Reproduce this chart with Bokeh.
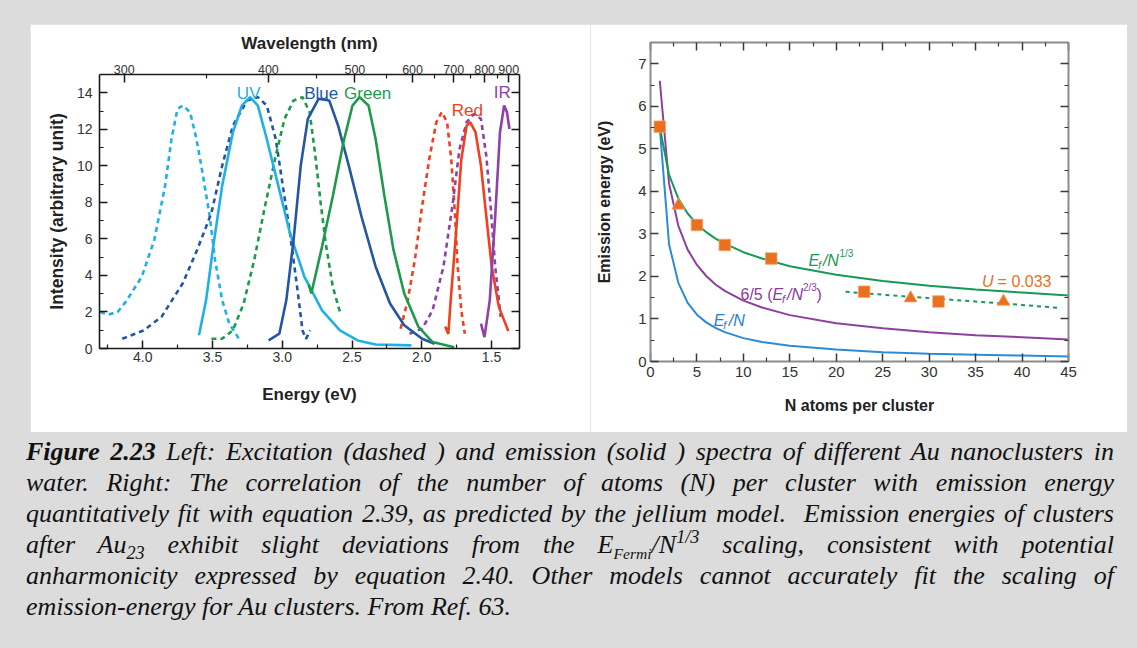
from bokeh.plotting import figure
from bokeh.models import (Range1d, LinearAxis, FixedTicker, PrintfTickFormatter,
                          CustomJSTickFormatter, Label, Spacer, Div)
from bokeh.layouts import row, column
from bokeh.embed import file_html
from bokeh.resources import INLINE

# ---------------- data: left panel (energy in eV, intensity in arb. unit) ----------------
uv_ex_e = [4.305, 4.25, 4.18, 4.122, 4.007, 3.917, 3.84, 3.794, 3.751, 3.713, 3.661, 3.615, 3.572, 3.52, 3.482, 3.431, 3.38, 3.303]
uv_ex_i = [2.0, 1.85, 2.0, 2.55, 3.93, 5.95, 8.9, 11.47, 13.12, 13.3, 12.94, 11.47, 9.63, 7.24, 4.85, 2.65, 1.36, 0.44]

blue_ex_e = [4.147, 3.994, 3.866, 3.713, 3.61, 3.508, 3.431, 3.354, 3.252, 3.175, 3.111, 3.047, 2.996, 2.945, 2.894, 2.855, 2.83, 2.80]
blue_ex_i = [0.53, 0.99, 1.73, 3.57, 5.4, 7.42, 10.0, 12.2, 13.58, 13.76, 13.3, 11.47, 8.9, 6.32, 3.38, 0.99, 0.53, 0.99]

green_ex_e = [3.508, 3.431, 3.354, 3.277, 3.201, 3.124, 3.047, 2.984, 2.919, 2.855, 2.804, 2.766, 2.728, 2.689, 2.638, 2.587]
green_ex_i = [0.53, 0.53, 0.99, 2.46, 4.85, 7.79, 10.55, 12.57, 13.58, 13.76, 12.94, 10.73, 8.16, 5.77, 3.38, 2.0]

red_ex_e = [2.152, 2.101, 2.05, 1.998, 1.947, 1.896, 1.857, 1.819, 1.789, 1.763, 1.743, 1.717, 1.692]
red_ex_i = [1.08, 2.65, 4.85, 7.79, 10.36, 12.39, 12.94, 12.39, 10.36, 7.42, 4.48, 2.09, 0.81]

ir_ex_e = [2.088, 1.998, 1.923, 1.845, 1.781, 1.73, 1.679, 1.627, 1.576, 1.538, 1.507, 1.474, 1.435]
ir_ex_i = [0.81, 1.08, 2.09, 4.48, 7.79, 10.92, 12.39, 12.84, 12.57, 10.55, 7.79, 4.48, 1.73]

uv_em_e = [3.597, 3.546, 3.495, 3.431, 3.354, 3.29, 3.231, 3.175, 3.111, 3.034, 2.945, 2.842, 2.715, 2.587, 2.46, 2.331, 2.075]
uv_em_i = [0.72, 2.65, 5.58, 8.9, 11.84, 13.3, 13.76, 13.3, 11.47, 9.08, 6.32, 3.93, 2.09, 0.99, 0.44, 0.22, 0.17]

blue_em_e = [3.098, 3.021, 2.971, 2.919, 2.868, 2.817, 2.74, 2.664, 2.6, 2.523, 2.433, 2.331, 2.228, 2.126, 1.998, 1.909]
blue_em_i = [0.44, 0.81, 2.65, 5.95, 10.0, 12.57, 13.67, 13.58, 12.2, 10.0, 7.24, 4.48, 2.46, 1.27, 0.53, 0.26]

green_em_e = [2.81, 2.792, 2.715, 2.638, 2.562, 2.497, 2.446, 2.382, 2.331, 2.268, 2.203, 2.126, 2.024, 1.923, 1.768]
green_em_i = [3.5, 3.01, 5.58, 8.34, 11.28, 13.3, 13.76, 13.3, 11.47, 8.34, 5.4, 3.01, 1.18, 0.35, 0.07]

red_em_e = [1.832, 1.81, 1.793, 1.755, 1.717, 1.679, 1.654, 1.615, 1.576, 1.538, 1.499, 1.448, 1.38]
red_em_i = [1.2, 0.8, 2.65, 6.32, 10.36, 12.2, 12.39, 11.84, 10.0, 7.24, 4.48, 2.28, 0.95]

ir_em_e = [1.576, 1.551, 1.513, 1.474, 1.44, 1.41, 1.39, 1.372]
ir_em_i = [1.36, 0.62, 2.65, 7.24, 11.84, 13.3, 12.94, 12.02]

energy_ticks = [4.0, 3.5, 3.0, 2.5, 2.0, 1.5]
energy_minor = [4.25, 3.75, 3.25, 2.75, 2.25, 1.75]
wl_ticks = [300, 400, 500, 600, 700, 800, 900]
wl_minor = [350, 450, 550, 650, 750, 850]
int_ticks = [0, 2, 4, 6, 8, 10, 12, 14]
int_minor = [1, 3, 5, 7, 9, 11, 13]

# ---------------- data: right panel ----------------
n_model = [1, 2, 3, 4, 5, 6, 7, 8, 10, 12, 15, 20, 25, 30, 35, 40, 45]
ef_over_n = [5.5, 2.75, 1.85, 1.38, 1.1, 0.92, 0.79, 0.69, 0.55, 0.46, 0.37, 0.28, 0.22, 0.18, 0.16, 0.14, 0.12]
ef_over_n13 = [5.5, 4.39, 3.83, 3.48, 3.23, 3.04, 2.89, 2.77, 2.57, 2.42, 2.24, 2.04, 1.89, 1.78, 1.69, 1.62, 1.55]
ef_over_n23 = [6.6, 4.18, 3.19, 2.63, 2.27, 2.01, 1.81, 1.66, 1.43, 1.27, 1.09, 0.90, 0.78, 0.69, 0.62, 0.57, 0.52]
u_n = [21, 25, 30, 35, 40, 44]
u_e = [1.64, 1.57, 1.49, 1.41, 1.33, 1.26]
sq_n = [1, 5, 8, 13, 23, 31]
sq_e = [5.52, 3.21, 2.74, 2.42, 1.64, 1.41]
tri_n = [3, 28, 38]
tri_e = [3.67, 1.49, 1.41]
n_ticks = [0, 5, 10, 15, 20, 25, 30, 35, 40, 45]
n_minor = [2.5, 7.5, 12.5, 17.5, 22.5, 27.5, 32.5, 37.5, 42.5]
em_ticks = [0, 1, 2, 3, 4, 5, 6, 7]
em_minor = [0.5, 1.5, 2.5, 3.5, 4.5, 5.5, 6.5]

FONT = "Liberation Sans"
C_UV = "#1fb0e6"
C_BLUE = "#2456a6"
C_GREEN = "#1d9a4b"
C_RED = "#f0401f"
C_IR = "#9040a8"
C_ORANGE = "#e8701e"


def style_axis(ax, line_color, line_width, tick_color, label=True, lsize="14px"):
    ax.axis_line_color = line_color
    ax.axis_line_width = line_width
    ax.major_tick_line_color = tick_color
    ax.minor_tick_line_color = tick_color
    ax.major_tick_line_width = 1.5
    ax.minor_tick_line_width = 1.2
    ax.major_tick_in = 8
    ax.major_tick_out = 0
    ax.minor_tick_in = 4
    ax.minor_tick_out = 0
    ax.major_label_text_font = FONT
    ax.major_label_text_font_size = lsize if label else "0px"
    ax.major_label_text_color = "#333333"
    ax.axis_label_text_font = FONT
    ax.axis_label_text_font_style = "bold"
    ax.axis_label_text_color = "#222222"


# ---------------- left figure ----------------
p1 = figure(width=560, height=408, x_range=Range1d(4.31, 1.30), y_range=Range1d(0, 15),
            output_backend="svg", toolbar_location=None,
            min_border_left=69, min_border_right=71, min_border_top=50, min_border_bottom=84)
p1.grid.visible = False
p1.outline_line_color = None
p1.border_fill_color = "white"
p1.background_fill_color = "white"

bx = p1.below[0]
bx.ticker = FixedTicker(ticks=energy_ticks, minor_ticks=energy_minor)
bx.formatter = PrintfTickFormatter(format="%.1f")
style_axis(bx, "#1a1a1a", 1.6, "#1a1a1a")
bx.axis_label = "Energy (eV)"
bx.axis_label_text_font_size = "17px"
bx.major_label_standoff = 3
bx.axis_label_standoff = 20

ly = p1.left[0]
ly.ticker = FixedTicker(ticks=int_ticks, minor_ticks=int_minor)
style_axis(ly, "#1a1a1a", 1.6, "#1a1a1a")
ly.axis_label = "Intensity (arbitrary unit)"
ly.axis_label_text_font_size = "17.5px"
ly.major_label_standoff = 7
ly.axis_label_standoff = 7

ry = LinearAxis(ticker=FixedTicker(ticks=int_ticks, minor_ticks=int_minor),
                formatter=CustomJSTickFormatter(code="return '';"))
style_axis(ry, "#1a1a1a", 1.6, "#1a1a1a", label=False)
p1.add_layout(ry, "right")

tx = LinearAxis(ticker=FixedTicker(ticks=[1239.84 / w for w in wl_ticks],
                                   minor_ticks=[1239.84 / w for w in wl_minor]),
                formatter=CustomJSTickFormatter(code="return Math.round(1239.84 / tick).toString();"))
style_axis(tx, "#1a1a1a", 1.6, "#1a1a1a", lsize="12.5px")
tx.axis_label = "Wavelength (nm)"
tx.axis_label_text_font_size = "17px"
tx.major_label_standoff = 1
tx.axis_label_standoff = 9
p1.add_layout(tx, "above")

DASH = "5 4"
LW = 2.6
p1.line(uv_ex_e, uv_ex_i, color=C_UV, line_width=LW, line_dash=DASH)
p1.line(blue_ex_e, blue_ex_i, color=C_BLUE, line_width=LW, line_dash=DASH)
p1.line(green_ex_e, green_ex_i, color=C_GREEN, line_width=LW, line_dash=DASH)
p1.line(red_ex_e, red_ex_i, color=C_RED, line_width=LW, line_dash=DASH)
p1.line(ir_ex_e, ir_ex_i, color=C_IR, line_width=LW, line_dash=DASH)
p1.line(uv_em_e, uv_em_i, color=C_UV, line_width=LW)
p1.line(blue_em_e, blue_em_i, color=C_BLUE, line_width=LW)
p1.line(green_em_e, green_em_i, color=C_GREEN, line_width=LW)
p1.line(red_em_e, red_em_i, color=C_RED, line_width=LW)
p1.line(ir_em_e, ir_em_i, color=C_IR, line_width=LW)

for txt, x, y, c in [("UV", 3.241, 13.95, C_UV), ("Blue", 2.721, 13.95, C_BLUE),
                     ("Green", 2.388, 13.95, C_GREEN), ("Red", 1.674, 13.03, C_RED),
                     ("IR", 1.423, 14.04, C_IR)]:
    p1.add_layout(Label(x=x, y=y, text=txt, text_color=c, text_font=FONT,
                        text_font_size="17px", text_align="center", text_baseline="alphabetic"))

# ---------------- right figure ----------------
p2 = figure(width=537, height=408, x_range=Range1d(0, 45), y_range=Range1d(0, 7.5),
            output_backend="svg", toolbar_location=None,
            min_border_left=60, min_border_right=59, min_border_top=18, min_border_bottom=71)
p2.grid.visible = False
p2.outline_line_color = None
p2.border_fill_color = "white"
p2.background_fill_color = "white"

AX2 = "#8c8c8c"
TK2 = "#3a3a3a"
b2 = p2.below[0]
b2.ticker = FixedTicker(ticks=n_ticks, minor_ticks=n_minor)
style_axis(b2, AX2, 2, TK2, lsize="15px")
b2.major_label_standoff = 5
b2.axis_label = "N atoms per cluster"
b2.axis_label_text_font_size = "16px"
b2.axis_label_standoff = 17

l2 = p2.left[0]
l2.ticker = FixedTicker(ticks=em_ticks, minor_ticks=em_minor)
style_axis(l2, AX2, 2, TK2, lsize="15px")
l2.axis_label = "Emission energy (eV)"
l2.axis_label_text_font_size = "16px"
l2.major_label_standoff = 4
l2.axis_label_standoff = 22

t2 = LinearAxis(ticker=FixedTicker(ticks=n_ticks, minor_ticks=n_minor),
                formatter=CustomJSTickFormatter(code="return '';"))
style_axis(t2, AX2, 2, TK2, label=False)
t2.major_label_standoff = 0
p2.add_layout(t2, "above")
r2 = LinearAxis(ticker=FixedTicker(ticks=em_ticks, minor_ticks=em_minor),
                formatter=CustomJSTickFormatter(code="return '';"))
style_axis(r2, AX2, 2, TK2, label=False)
r2.major_label_standoff = 0
p2.add_layout(r2, "right")

p2.line(n_model, ef_over_n, color="#2a8cd6", line_width=2)
p2.line(n_model, ef_over_n23, color="#8e3fa0", line_width=2)
p2.line(n_model, ef_over_n13, color="#169a57", line_width=2)
p2.line(u_n, u_e, color="#169a57", line_width=2, line_dash="4 4")
p2.scatter(sq_n, sq_e, marker="square", size=11.5, color=C_ORANGE, line_color="#f4a36a", line_width=0.8)
p2.scatter(tri_n, tri_e, marker="triangle", size=13, color=C_ORANGE, line_color="#f4a36a", line_width=0.8)


def lab(p, x, y, text, color, size="16px", style="normal", xo=0, yo=0, align="left",
        baseline="alphabetic"):
    p.add_layout(Label(x=x, y=y, text=text, text_color=color, text_font=FONT,
                       text_font_size=size, text_font_style=style, x_offset=xo, y_offset=yo,
                       text_align=align, text_baseline=baseline))


G = "#1a9a55"
P = "#8b3a9e"
B = "#2580d0"
lab(p2, 17.0, 2.37, "E", G, style="italic")
lab(p2, 17.0, 2.37, "f", G, size="11px", style="italic", xo=9.5, yo=-4)
lab(p2, 17.0, 2.37, "/N", G, style="italic", xo=14.5)
lab(p2, 17.0, 2.37, "1/3", G, size="10px", xo=31, yo=7)

lab(p2, 9.69, 1.57, "6/5 (", P)
lab(p2, 9.69, 1.57, "E", P, style="italic", xo=32)
lab(p2, 9.69, 1.57, "f", P, size="11px", style="italic", xo=41.5, yo=-4)
lab(p2, 9.69, 1.57, "/N", P, style="italic", xo=46.5)
lab(p2, 9.69, 1.57, "2/3", P, size="10px", xo=62.5, yo=7)
lab(p2, 9.69, 1.57, ")", P, xo=76)

lab(p2, 6.81, 0.96, "E", B, style="italic")
lab(p2, 6.81, 0.96, "f", B, size="11px", style="italic", xo=9.5, yo=-4)
lab(p2, 6.81, 0.96, "/N", B, style="italic", xo=15)

lab(p2, 35.7, 1.88, "U", C_ORANGE, style="italic")
lab(p2, 35.7, 1.88, "= 0.033", C_ORANGE, xo=15.5)

# ---------------- caption ----------------
cap_lines = [
    "<b>Figure 2.23</b> Left: Excitation (dashed ) and emission (solid ) spectra of different Au nanoclusters in",
    "water. Right: The correlation of the number of atoms (N) per cluster with emission energy",
    "quantitatively fit with equation 2.39, as predicted by the jellium model.&nbsp; Emission energies of clusters",
    "after Au<sub style='line-height:0;font-size:70%'>23</sub> exhibit slight deviations from the "
    "E<sub style='line-height:0;font-size:60%'>Fermi</sub>/N<sup style='line-height:0;font-size:70%'>1/3</sup> "
    "scaling, consistent with potential",
    "anharmonicity expressed by equation 2.40. Other models cannot accurately fit the scaling of",
    "emission-energy for Au clusters. From Ref. 63.",
]
parts = []
for i, ln in enumerate(cap_lines):
    al = "left" if i == len(cap_lines) - 1 else "justify"
    parts.append(f"<div style='height:31px;line-height:31px;text-align:{al};text-align-last:{al};'>{ln}</div>")
cap_html = ("<div style=\"box-sizing:border-box;margin-top:-1px;padding:0 0 0 21px;width:1109px;"
            "font-family:'Liberation Serif';font-style:italic;font-size:26px;color:#111111;\">"
            + "".join(parts) + "</div>")
cap = Div(text=cap_html, width=1137, height=216)

layout = column(
    Spacer(width=1137, height=24),
    row(Spacer(width=30, height=408), column(p1), column(p2), Spacer(width=10, height=408)),
    cap,
    styles={"background-color": "#dcdcdc"},
)

open("out.html", "w").write(file_html(layout, INLINE))
